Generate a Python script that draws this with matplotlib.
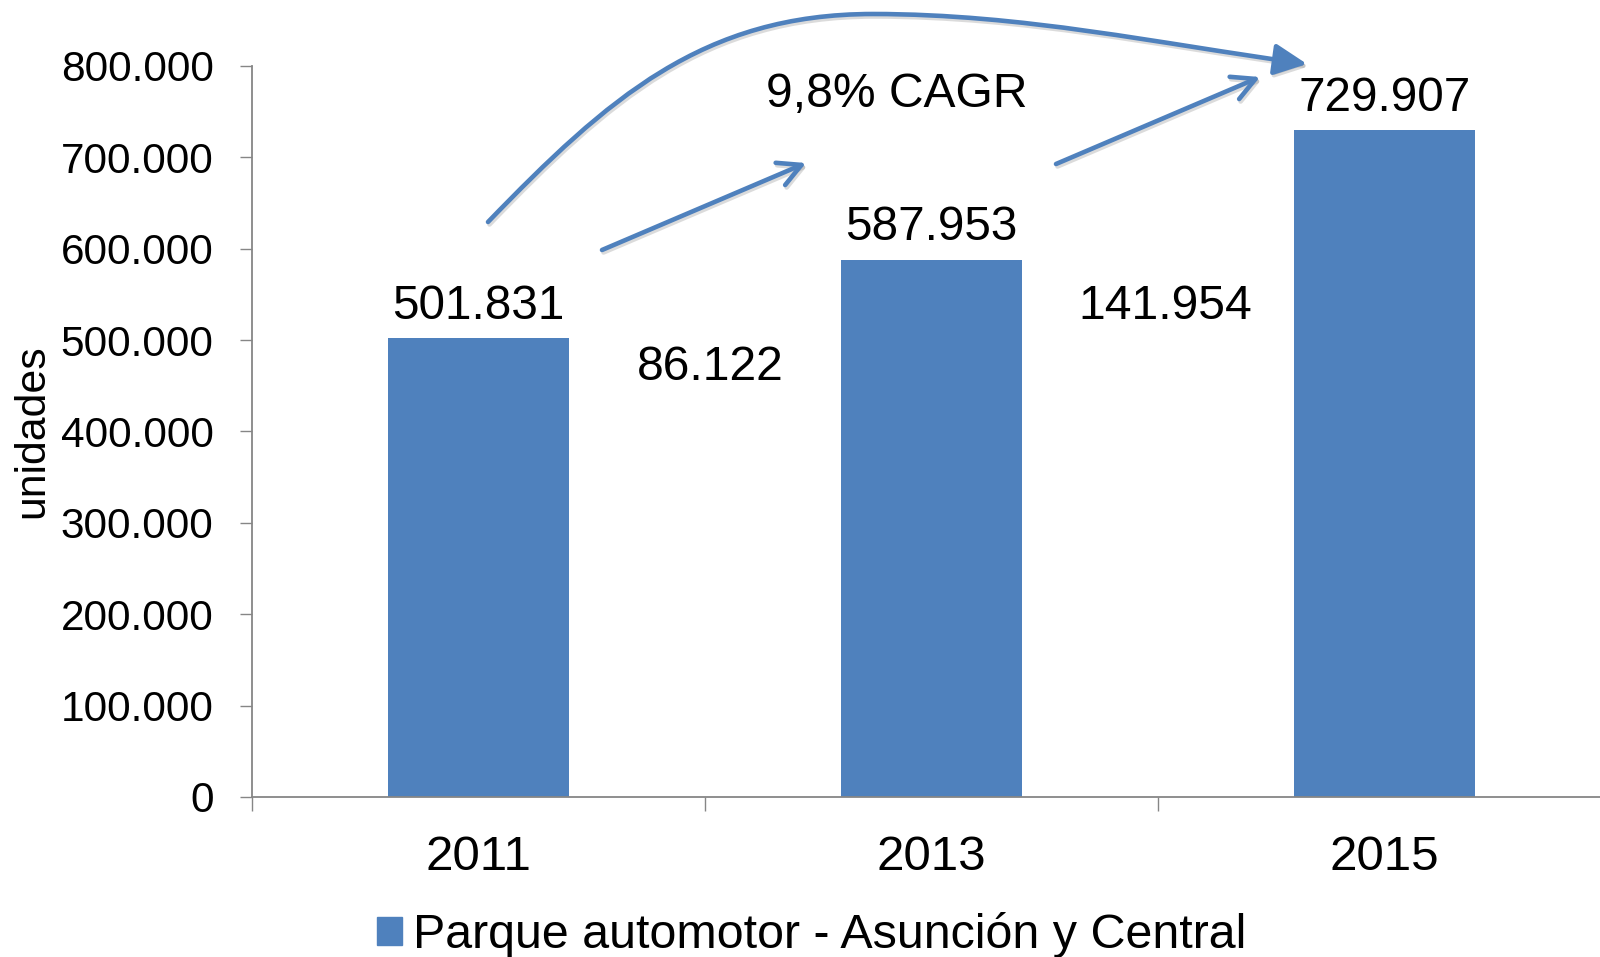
import matplotlib
matplotlib.use("Agg")
import matplotlib.pyplot as plt
from matplotlib.patches import FancyArrowPatch, Rectangle
from matplotlib.path import Path
from matplotlib.transforms import Affine2D

plt.rcParams['font.family'] = ['Liberation Sans', 'DejaVu Sans']

# ---- data ----
years = ["2011", "2013", "2015"]
values = [501831, 587953, 729907]
series_name = "Parque automotor - Asunción y Central"
y_label = "unidades"
cagr_label = "9,8% CAGR"
diff_labels = ["86.122", "141.954"]
y_ticks = [0, 100000, 200000, 300000, 400000, 500000, 600000, 700000, 800000]

BLUE = "#4F81BD"
GRAY = "#868686"
W, H = 1600, 957


def fmt(v):
    return f"{v:,.0f}".replace(",", ".")


fig = plt.figure(figsize=(W / 100, H / 100), dpi=100)
ax = fig.add_axes([252 / W, (H - 797) / H, 1359 / W, 731 / H])

x = list(range(len(years)))
ax.bar(x, values, width=0.4, color=BLUE, zorder=2)
ax.set_xlim(-0.5, len(years) - 0.5)
ax.set_ylim(0, 800000)

# spines
for s in ["top", "right"]:
    ax.spines[s].set_visible(False)
for s in ["left", "bottom"]:
    ax.spines[s].set_color(GRAY)
    ax.spines[s].set_linewidth(1.3)

# y ticks
ax.set_yticks(y_ticks)
ax.set_yticklabels([fmt(v) for v in y_ticks])
ax.tick_params(axis='y', direction='out', length=8.6, width=1.0, color=GRAY,
               pad=19, labelsize=30.5)

# x ticks: boundaries as major ticks, labels at centers as minor
ax.set_xticks([i - 0.5 for i in range(len(years) + 1)])
ax.set_xticklabels([])
ax.set_xticks(x, minor=True)
ax.set_xticklabels(years, minor=True)
ax.tick_params(axis='x', which='major', direction='out', length=10, width=1.0,
               color=GRAY)
ax.tick_params(axis='x', which='minor', length=0, pad=27, labelsize=35.5)

# data labels
for xi, v in zip(x, values):
    ax.annotate(fmt(v), (xi, v), xytext=(0, 14), textcoords='offset points',
                ha='center', va='baseline', fontsize=34.3)

# difference labels and CAGR
ax.text(0.511, 456800, diff_labels[0], ha='center', va='baseline', fontsize=34.6)
ax.text(1.517, 523100, diff_labels[1], ha='center', va='baseline', fontsize=34.6)
ax.text(0.924, 755100, cagr_label, ha='center', va='baseline', fontsize=34.6,
        clip_on=False)

# y label
fig.text(32 / W, 1 - 431.5 / H, y_label, rotation=90, ha='center', va='center',
         fontsize=30.8)

# arrows in figure pixel coordinates (origin top-left)
def pix_tf(dx=0, dy=0):
    return (Affine2D().translate(dx, dy).scale(1 / W, -1 / H).translate(0, 1)
            + fig.transFigure)


straight_style = "->,head_length=0.55,head_width=0.29"
curve = Path([(488, 222), (608, 98), (703, 14), (873, 14),
              (1023, 14), (1158, 43.5), (1307, 64)],
             [Path.MOVETO, Path.CURVE4, Path.CURVE4, Path.CURVE4,
              Path.CURVE4, Path.CURVE4, Path.CURVE4])


def make_arrows(tf, color, alpha, z):
    kw = dict(transform=tf, color=color, alpha=alpha, lw=3.3, clip_on=False,
              shrinkA=0, shrinkB=0, zorder=z)
    return [
        FancyArrowPatch((602, 250), (806, 163), arrowstyle=straight_style,
                        mutation_scale=30, capstyle='round',
                        joinstyle='round', **kw),
        FancyArrowPatch((1056, 164), (1260, 77), arrowstyle=straight_style,
                        mutation_scale=30, capstyle='round',
                        joinstyle='round', **kw),
        FancyArrowPatch(path=curve,
                        arrowstyle="-|>,head_length=0.5,head_width=0.24",
                        mutation_scale=40, **kw),
    ]


# soft shadow, then the arrows themselves
for a in make_arrows(pix_tf(1.5, 2.5), "#9a9a9a", 0.35, 3):
    fig.add_artist(a)
for a in make_arrows(pix_tf(), BLUE, 1.0, 4):
    fig.add_artist(a)

# legend
handle = Rectangle((0, 0), 1, 1, color=BLUE)
fig.legend([handle], [series_name], loc='center',
           bbox_to_anchor=(812 / W, 1 - 935 / H), frameon=False,
           fontsize=34.8, handlelength=0.52, handleheight=0.52,
           handletextpad=0.23, borderpad=0, borderaxespad=0)

fig.savefig("out.png", dpi=100)
